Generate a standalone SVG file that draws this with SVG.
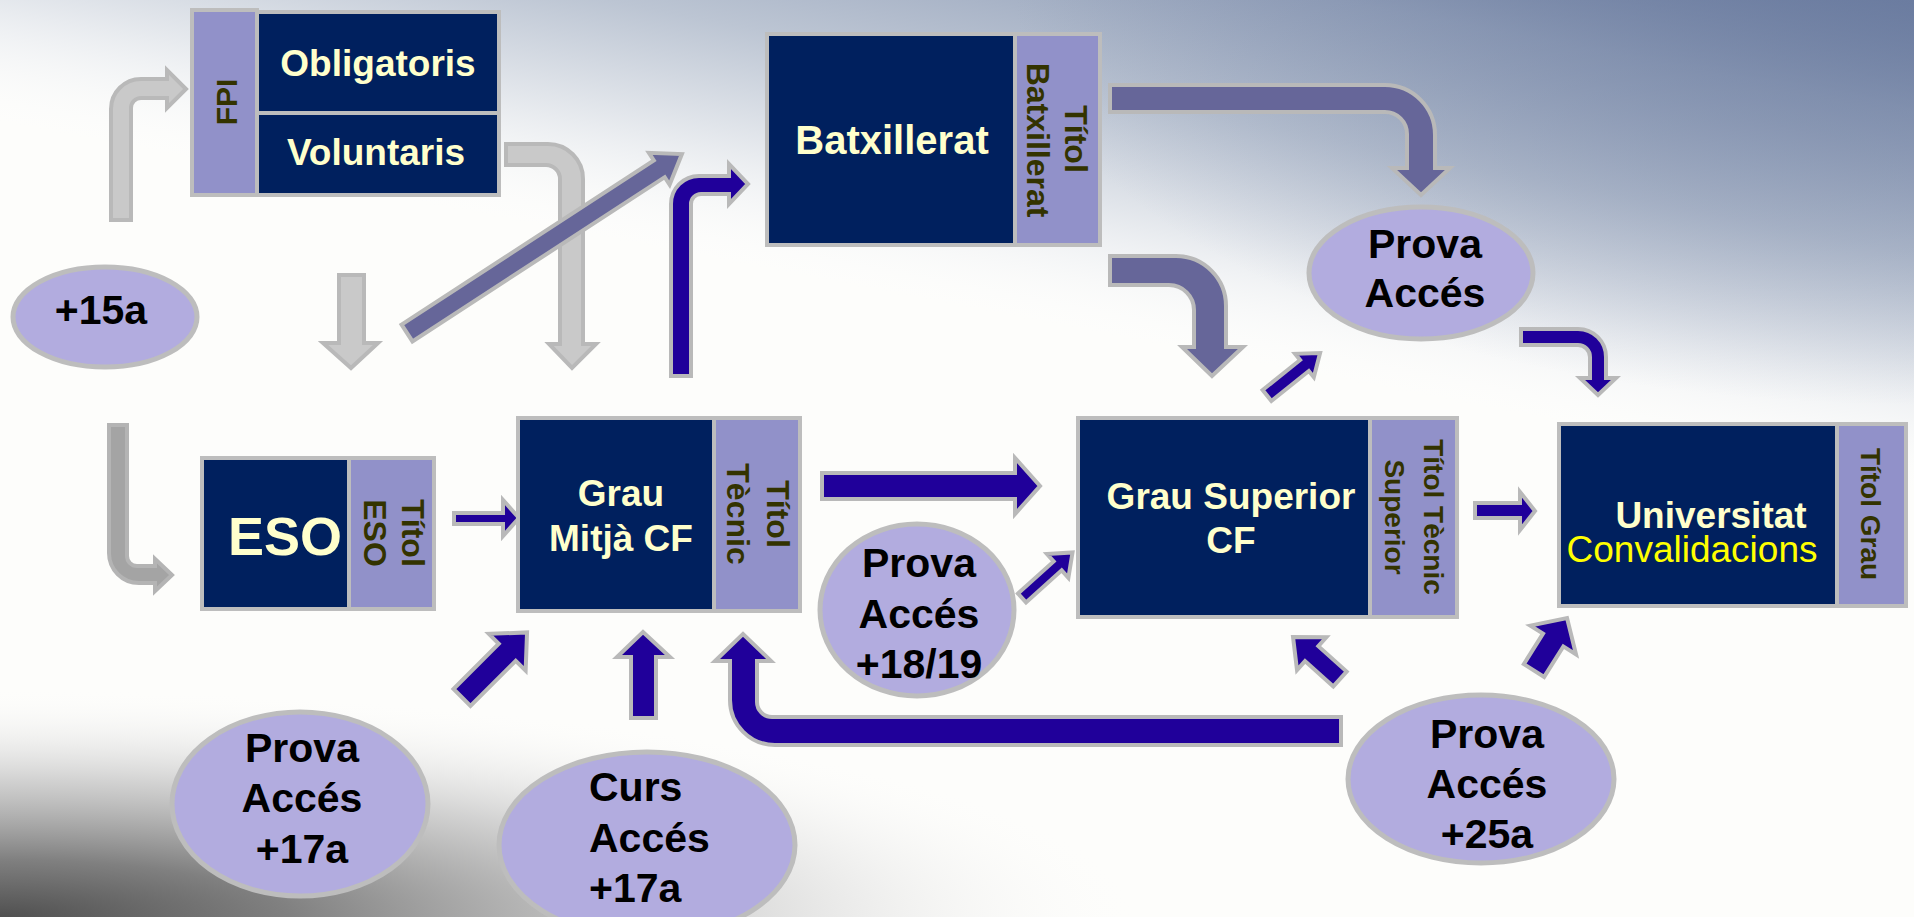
<svg xmlns="http://www.w3.org/2000/svg" width="1914" height="917" viewBox="0 0 1914 917">
<defs>
<linearGradient id="sky" gradientUnits="userSpaceOnUse" x1="1900" y1="500" x2="1993" y2="16">
<stop offset="0" stop-color="#ffffff" stop-opacity="0"/>
<stop offset="0.25" stop-color="#e8ebef"/>
<stop offset="0.5" stop-color="#bcc5d3"/>
<stop offset="0.78" stop-color="#97a4bc"/>
<stop offset="1" stop-color="#6b7ca0"/>
</linearGradient>
<radialGradient id="skyTR" gradientUnits="userSpaceOnUse" cx="1914" cy="0" r="900" gradientTransform="translate(1914,0) scale(1,0.45) translate(-1914,0)">
<stop offset="0" stop-color="#6b7ca0" stop-opacity="0.7"/>
<stop offset="1" stop-color="#6b7ca0" stop-opacity="0"/>
</radialGradient>
<radialGradient id="shadeBL" gradientUnits="userSpaceOnUse" cx="0" cy="917" r="1150" gradientTransform="translate(0,917) scale(1,0.2) translate(0,-917)">
<stop offset="0" stop-color="#505050"/>
<stop offset="0.25" stop-color="#808080"/>
<stop offset="0.6" stop-color="#c8c8c8" stop-opacity="0.8"/>
<stop offset="1" stop-color="#ffffff" stop-opacity="0"/>
</radialGradient>
<style>
.navy{fill:#00205e;stroke:#bdbdbd;stroke-width:4}
.lab{fill:#9191c9;stroke:#bdbdbd;stroke-width:4}
.ell{fill:#b2acdf;stroke:#bdbdbd;stroke-width:5}
.blue{fill:#20009a;stroke:#b9b9b9;stroke-width:4}
.slate{fill:#666699;stroke:#b9b9b9;stroke-width:4}
.lgray{fill:#c9c9c9;stroke:#b9b9b9;stroke-width:4}
.dgray{fill:#a4a4a4;stroke:#b4b4b4;stroke-width:4}
text{font-family:"Liberation Sans",Arial,sans-serif;font-weight:bold}
.bt{fill:#ffffcc;text-anchor:middle;font-size:37px}
.et{fill:#000000;text-anchor:middle;font-size:41px}
.lt{fill:#333300;text-anchor:middle;font-size:32px}
.lts{fill:#333300;text-anchor:middle;font-size:28px}
</style>
</defs>
<rect x="0" y="0" width="1914" height="917" fill="#fdfdfb"/>
<rect x="0" y="0" width="1914" height="600" fill="url(#sky)"/>
<rect x="0" y="0" width="1914" height="500" fill="url(#skyTR)"/>
<rect x="0" y="600" width="1914" height="317" fill="url(#shadeBL)"/>

<g id="connectors">
<path class="lgray" d="M111,220 V109 A30,30 0 0 1 141,79 H167 V70 L186,89 L167,108 V98 H141 A10,10 0 0 0 131,108 V220 Z"/>
<path class="dgray" d="M109,425 H127 V556 A10,10 0 0 0 137,566 H155 V559 L172,575 L155,591 V583 H139 A30,30 0 0 1 109,553 Z"/>
<path class="lgray" d="M339,275 H364 V343 H378 L351,368 L323,343 H339 Z"/>
<path class="lgray" d="M506,144 H548 A35,35 0 0 1 583,179 V344 H596 L572,368 L549,344 H560 V179 A14,14 0 0 0 546,165 H506 Z"/>
<path class="slate" transform="translate(407,333) rotate(-33.06)" d="M0,-10 H301 V-19 L328,0 L301,19 V10 H0 Z"/>
<path class="blue" d="M671,376 V204 A28,28 0 0 1 699,176 H729 V164 L748,184 L729,204 V194 H701 A10,10 0 0 0 691,204 V376 Z"/>
<path class="slate" d="M1110,85 H1385 A50,50 0 0 1 1435,135 V168 H1450 L1421,195 L1392,168 H1407 V134 A22,22 0 0 0 1385,112 H1110 Z"/>
<path class="slate" d="M1110,256 H1176 A50,50 0 0 1 1226,306 V347 H1243 L1212,376 L1182,347 H1194 V310 A25,25 0 0 0 1169,285 H1110 Z"/>
<path class="blue" d="M1521,329 H1578 A28,28 0 0 1 1606,357 V378 H1616 L1598,395 L1580,378 H1590 V357 A12,12 0 0 0 1578,345 H1521 Z"/>
<path class="blue" transform="translate(1267,395.5) rotate(-38.7)" d="M0,-7 H48 V-15 L68,0 L48,15 V7 H0 Z"/>
<path class="blue" d="M454,513 H503 V500 L519,518 L503,536 V524 H454 Z"/>
<path class="blue" d="M822,473 H1015 V458 L1040,486 L1015,514 V499 H822 Z"/>
<path class="blue" transform="translate(1022,598) rotate(-42)" d="M0,-6 H48 V-16 L68,0 L48,16 V6 H0 Z"/>
<path class="blue" transform="translate(462,697.5) rotate(-45)" d="M0,-12 H64 V-26 L92,0 L64,26 V12 H0 Z"/>
<path class="blue" d="M631,718 V657 H617 L643,632 L670,657 H656 V718 Z"/>
<path class="blue" d="M1341,717 H772 A15,15 0 0 1 757,702 V661 H771 L743,634 L715,661 H730 V700 A45,45 0 0 0 775,745 H1341 Z"/>
<path class="blue" d="M1475,503 H1520 V492 L1535,511 L1520,530 V518 H1475 Z"/>
<path class="blue" transform="translate(1340,679) rotate(-138.2)" d="M0,-10 H38 V-22 L63,0 L38,22 V10 H0 Z"/>
<path class="blue" transform="translate(1534,670.5) rotate(-57.8)" d="M0,-12 H36 V-27 L62,0 L36,27 V12 H0 Z"/>
</g>

<g id="node-fpi">
<rect class="lab" x="192" y="10" width="65" height="185"/>
<rect class="navy" x="257" y="12" width="242" height="101"/>
<rect class="navy" x="257" y="113" width="242" height="82"/>
<text class="lt" style="font-size:30px" transform="translate(237,102) rotate(-90)">FPI</text>
<text class="bt" x="378" y="76">Obligatoris</text>
<text class="bt" x="376" y="165">Voluntaris</text>
</g>

<g id="node-15a">
<ellipse class="ell" cx="105" cy="317" rx="92" ry="50"/>
<text class="et" x="101" y="324">+15a</text>
</g>

<g id="node-batxillerat">
<rect class="navy" x="767" y="34" width="248" height="211"/>
<rect class="lab" x="1015" y="34" width="85" height="211"/>
<text class="bt" style="font-size:40px" x="892" y="154">Batxillerat</text>
<text class="lt" transform="translate(1065,139) rotate(90)">Títol</text>
<text class="lt" transform="translate(1027,140) rotate(90)">Batxillerat</text>
</g>

<g id="node-prova-top">
<ellipse class="ell" cx="1421" cy="273" rx="112" ry="66"/>
<text class="et" x="1425" y="258">Prova</text>
<text class="et" x="1425" y="307">Accés</text>
</g>

<g id="node-eso">
<rect class="navy" x="202" y="458" width="147" height="151"/>
<rect class="lab" x="349" y="458" width="85" height="151"/>
<text class="bt" style="font-size:54px" x="285" y="555">ESO</text>
<text class="lt" transform="translate(402,533) rotate(90)">Títol</text>
<text class="lt" transform="translate(364,533) rotate(90)">ESO</text>
</g>

<g id="node-grau-mitja">
<rect class="navy" x="518" y="418" width="196" height="193"/>
<rect class="lab" x="714" y="418" width="86" height="193"/>
<text class="bt" x="621" y="506">Grau</text>
<text class="bt" x="621" y="551">Mitjà CF</text>
<text class="lt" transform="translate(767,514) rotate(90)">Títol</text>
<text class="lt" transform="translate(727,514) rotate(90)">Tècnic</text>
</g>

<g id="node-prova-1819">
<ellipse class="ell" cx="917" cy="610" rx="97" ry="86"/>
<text class="et" x="919" y="577">Prova</text>
<text class="et" x="919" y="628">Accés</text>
<text class="et" x="919" y="678">+18/19</text>
</g>

<g id="node-grau-superior">
<rect class="navy" x="1078" y="418" width="292" height="199"/>
<rect class="lab" x="1370" y="418" width="87" height="199"/>
<text class="bt" x="1231" y="509">Grau Superior</text>
<text class="bt" x="1231" y="553">CF</text>
<text class="lts" transform="translate(1424,517) rotate(90)">Títol Tècnic</text>
<text class="lts" transform="translate(1385,517) rotate(90)">Superior</text>
</g>

<g id="node-universitat">
<rect class="navy" x="1559" y="424" width="278" height="182"/>
<rect class="lab" x="1837" y="424" width="69" height="182"/>
<text class="bt" x="1711" y="528">Universitat</text>
<text x="1692" y="562" style="font-weight:normal;fill:#ffff00;text-anchor:middle;font-size:37px">Convalidacions</text>
<text class="lts" transform="translate(1861,514) rotate(90)">Títol Grau</text>
</g>

<g id="node-prova-17">
<ellipse class="ell" cx="300" cy="804" rx="128" ry="92"/>
<text class="et" x="302" y="762">Prova</text>
<text class="et" x="302" y="812">Accés</text>
<text class="et" x="302" y="863">+17a</text>
</g>

<g id="node-curs-17">
<ellipse class="ell" cx="647" cy="845" rx="148" ry="93"/>
<text class="et" style="text-anchor:start" x="589" y="801">Curs</text>
<text class="et" style="text-anchor:start" x="589" y="852">Accés</text>
<text class="et" style="text-anchor:start" x="589" y="902">+17a</text>
</g>

<g id="node-prova-25">
<ellipse class="ell" cx="1481" cy="779" rx="133" ry="84"/>
<text class="et" x="1487" y="748">Prova</text>
<text class="et" x="1487" y="798">Accés</text>
<text class="et" x="1487" y="848">+25a</text>
</g>
</svg>
